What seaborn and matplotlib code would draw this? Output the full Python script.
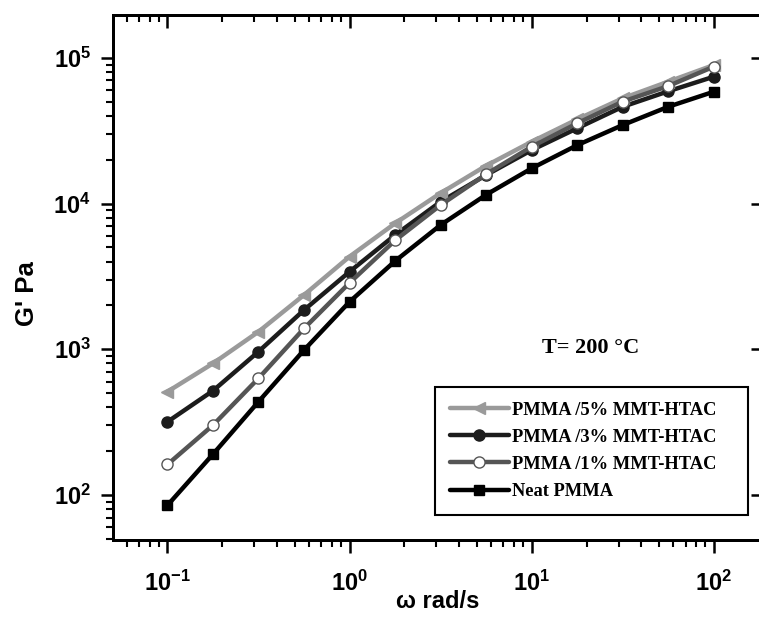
import numpy as np
import pandas as pd
import seaborn as sns
import matplotlib
matplotlib.use("Agg")
import matplotlib.pyplot as plt
from matplotlib.ticker import LogLocator, NullFormatter, FuncFormatter, NullLocator

# ---- data ----
omega = [0.1, 0.178, 0.316, 0.562, 1.0, 1.78, 3.16, 5.62, 10.0, 17.8, 31.6, 56.2, 100.0]
g_5pct = [512, 801, 1320, 2360, 4330, 7330, 11800, 18200, 26600, 37900, 52800, 68700, 89300]
g_3pct = [318, 520, 964, 1860, 3410, 6090, 10300, 15700, 23300, 32900, 46200, 59000, 74300]
g_1pct = [162, 302, 632, 1390, 2860, 5600, 9770, 15900, 24600, 35600, 50100, 64100, 87100]
g_neat = [85, 191, 437, 988, 2120, 4040, 7130, 11500, 17460, 25200, 34600, 46200, 58600]
labels = ["PMMA /5% MMT-HTAC", "PMMA /3% MMT-HTAC", "PMMA /1% MMT-HTAC", "Neat PMMA"]

sns.set_theme(style="white")
plt.rcParams['font.family'] = ['Liberation Sans', 'DejaVu Sans']
plt.rcParams['mathtext.fontset'] = 'custom'
plt.rcParams['mathtext.rm'] = 'Liberation Sans'
plt.rcParams['mathtext.bf'] = 'Liberation Sans:bold'
plt.rcParams['text.color'] = 'black'
plt.rcParams['axes.labelcolor'] = 'black'

XLIM = (0.0502, 184)
YLIM = (49.1, 1.97e5)

fig = plt.figure(figsize=(7.59, 6.23), dpi=100)
rect = [113/759, 1-540/623, 649/759, 525/623]
ax = fig.add_axes(rect)

styles = {
    labels[0]: dict(color="#9a9a9a", marker="<", mfc="#9a9a9a", mec="#9a9a9a", ms=9),
    labels[1]: dict(color="#1c1c1c", marker="o", mfc="#1c1c1c", mec="#1c1c1c", ms=8),
    labels[2]: dict(color="#555555", marker="o", mfc="white", mec="#555555", ms=8),
    labels[3]: dict(color="#000000", marker="s", mfc="#000000", mec="#000000", ms=7),
}
series = {labels[0]: g_5pct, labels[1]: g_3pct, labels[2]: g_1pct, labels[3]: g_neat}

draw_order = [labels[3], labels[1], labels[0], labels[2]]
for lab in draw_order:
    df = pd.DataFrame({"omega": omega, "G": series[lab]})
    st = styles[lab]
    sns.lineplot(data=df, x="omega", y="G", ax=ax, color=st["color"], lw=3.2,
                 marker=st["marker"], markersize=st["ms"], markerfacecolor=st["mfc"],
                 markeredgecolor=st["mec"], markeredgewidth=1.0, label=lab)

handles, labs = ax.get_legend_handles_labels()
if ax.get_legend() is not None:
    ax.get_legend().remove()

ax.set_xscale("log")
ax.set_yscale("log")
ax.set_xlim(*XLIM)
ax.set_ylim(*YLIM)


def sci(v, pos):
    e = int(round(np.log10(v)))
    return r"$\mathbf{10^{%d}}$" % e


for a in (ax.xaxis, ax.yaxis):
    a.set_major_locator(LogLocator(base=10, numticks=10))
    a.set_minor_locator(LogLocator(base=10, subs=np.arange(2, 10), numticks=20))
    a.set_major_formatter(FuncFormatter(sci))
    a.set_minor_formatter(NullFormatter())

for sp in ax.spines.values():
    sp.set_color("black")
    sp.set_linewidth(2.0)

ax.tick_params(axis="both", which="both", direction="out", colors="black",
               top=False, right=False, bottom=True, left=True)
ax.tick_params(axis="both", which="major", length=9, width=1.8, labelsize=17)
ax.tick_params(axis="both", which="minor", length=5, width=1.5)
ax.tick_params(axis="x", which="major", pad=13)
ax.tick_params(axis="y", which="major", pad=7)

# top axis: ticks pointing inward, no labels
axt = ax.twiny()
axt.set_xscale("log")
axt.set_xlim(*XLIM)
axt.xaxis.set_major_locator(LogLocator(base=10, numticks=10))
axt.xaxis.set_minor_locator(LogLocator(base=10, subs=np.arange(2, 10), numticks=20))
axt.xaxis.set_major_formatter(NullFormatter())
axt.xaxis.set_minor_formatter(NullFormatter())
axt.tick_params(axis="x", which="both", direction="in", top=True, bottom=False,
                labeltop=False, colors="black")
axt.tick_params(axis="x", which="major", length=9, width=1.8)
axt.tick_params(axis="x", which="minor", length=5, width=1.5)
axt.grid(False)

# right axis: major ticks pointing inward, no labels
axr = ax.twinx()
axr.set_yscale("log")
axr.set_ylim(*YLIM)
axr.yaxis.set_major_locator(LogLocator(base=10, numticks=10))
axr.yaxis.set_minor_locator(NullLocator())
axr.yaxis.set_major_formatter(NullFormatter())
axr.tick_params(axis="y", which="major", direction="in", right=True, left=False,
                labelright=False, length=8, width=1.8, colors="black")
axr.grid(False)
for a in (axt, axr):
    for sp in a.spines.values():
        sp.set_color("black")
        sp.set_linewidth(2.0)

ax.set_xlabel("ω rad/s", fontsize=17, fontweight="bold", labelpad=-4, color="black")
ax.set_ylabel("G' Pa", fontsize=18.5, fontweight="bold", color="black")
ax.yaxis.set_label_coords(-0.114, 0.469)

ax.text(542, 623-348, "T= 200 °C", transform=None, fontsize=16, color="black",
        fontweight="bold", family="Liberation Serif", va="center", ha="left")

order = [labs.index(l) for l in labels]
leg = axr.legend([handles[i] for i in order], [labs[i] for i in order],
                 loc="lower left", bbox_to_anchor=(0.496, 0.048, 0.483, 0.243),
                 mode="expand", frameon=True,
                 fancybox=False, edgecolor="black", framealpha=1,
                 prop={"family": "Liberation Serif", "weight": "bold", "size": 13.3},
                 handlelength=3.2, handletextpad=0.2, labelspacing=0.55,
                 borderpad=0.8, borderaxespad=0)
leg.get_frame().set_linewidth(1.5)
for t in leg.get_texts():
    t.set_color("black")

fig.savefig("out.png", dpi=100)
